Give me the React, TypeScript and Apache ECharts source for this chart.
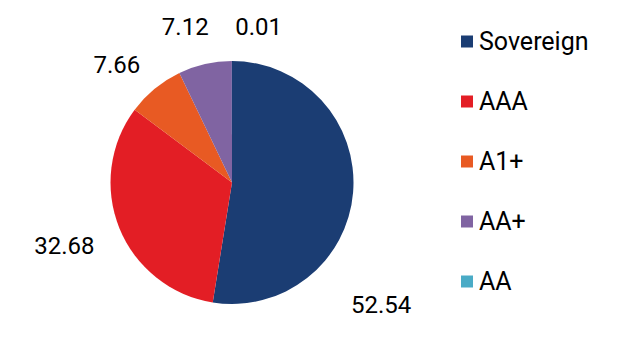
import React, { useEffect, useRef } from "react";
import * as echarts from "echarts";

const categories = ["Sovereign", "AAA", "A1+", "AA+", "AA"];
const values = [52.54, 32.68, 7.66, 7.12, 0.01];
const colors = ["#1b3d73", "#e31e25", "#e85a23", "#8064a2", "#4aabc6"];
// label nudges (style only)
const labelOffsets: [number, number][] = [
  [-22, 112],
  [-6, 12],
  [0, -12],
  [12, -22],
  [55, -19],
];

export default function App() {
  const ref = useRef<HTMLDivElement>(null);
  useEffect(() => {
    if (!ref.current) return;
    const chart = echarts.init(ref.current, undefined, { renderer: "svg" });
    chart.setOption({
      animation: false,
      backgroundColor: "#ffffff",
      legend: {
        orient: "vertical",
        left: 456,
        top: 24,
        padding: 5,
        icon: "rect",
        itemWidth: 12,
        itemHeight: 12,
        itemGap: 35,
        data: categories,
        textStyle: {
          fontFamily: "Roboto",
          fontSize: 25,
          color: "#000",
          lineHeight: 24,
          padding: [0, 0, 0, 1],
        },
      },
      series: [
        {
          type: "pie",
          center: [232, 182.5],
          radius: [0, 121.5],
          startAngle: 90,
          clockwise: true,
          avoidLabelOverlap: false,
          label: {
            show: true,
            position: "outside",
            formatter: (p: any) => values[p.dataIndex].toFixed(2),
            fontFamily: "Roboto",
            fontSize: 24,
            color: "#000",
            distanceToLabelLine: 5,
          },
          labelLine: { show: false, length: 15, length2: 0 },
          emphasis: { disabled: true },
          data: categories.map((c, i) => ({
            name: c,
            value: values[i],
            itemStyle: { color: colors[i] },
            label: { offset: labelOffsets[i] },
          })),
        },
      ],
    });
    return () => chart.dispose();
  }, []);
  return (
    <div
      ref={ref}
      style={{ position: "fixed", left: 0, top: 0, width: 622, height: 362 }}
    />
  );
}
